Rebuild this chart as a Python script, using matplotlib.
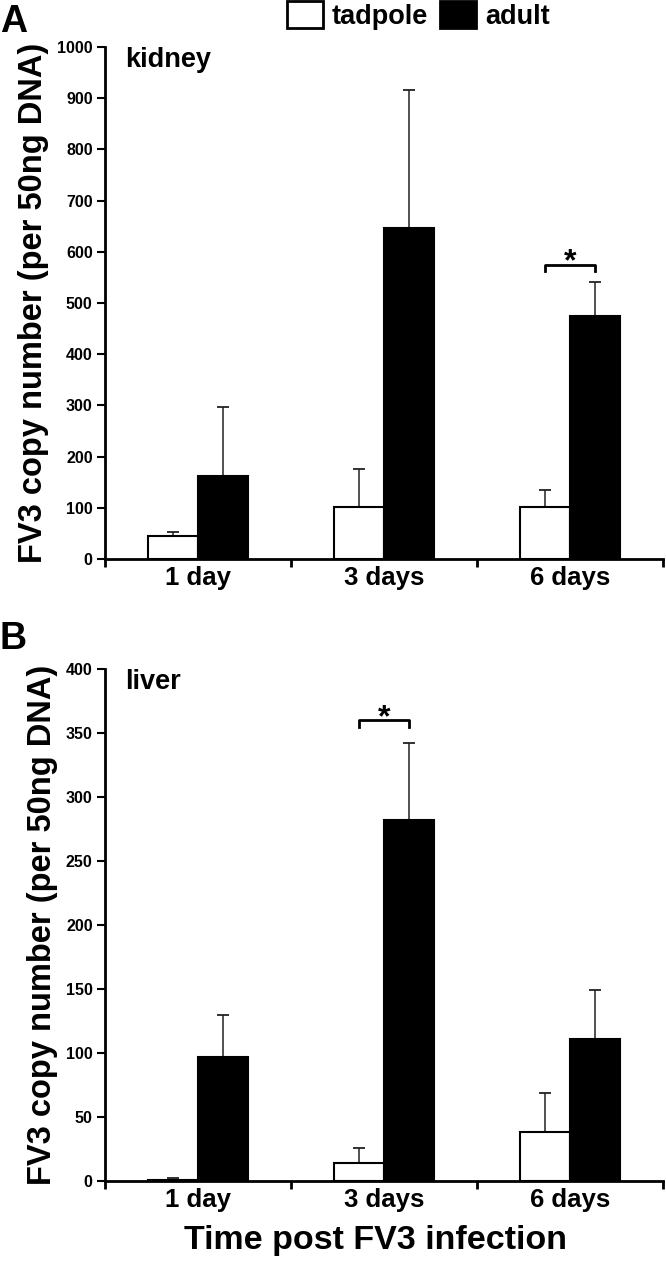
import matplotlib
matplotlib.use("Agg")
import matplotlib.pyplot as plt
import numpy as np
from matplotlib.patches import Patch

plt.rcParams['font.family'] = ['Liberation Sans', 'DejaVu Sans']
plt.rcParams['font.weight'] = 'bold'

categories = ["1 day", "3 days", "6 days"]
kidney_tadpole = [45, 101, 102]
kidney_tadpole_err = [8, 74, 33]
kidney_adult = [163, 647, 475]
kidney_adult_err = [134, 268, 65]
liver_tadpole = [1, 14, 38]
liver_tadpole_err = [1, 12, 31]
liver_adult = [97, 282, 111]
liver_adult_err = [33, 60, 38]
kidney_yticks = [0, 100, 200, 300, 400, 500, 600, 700, 800, 900, 1000]
liver_yticks = [0, 50, 100, 150, 200, 250, 300, 350, 400]
series_labels = ["tadpole", "adult"]

fig = plt.figure(figsize=(6.66, 12.65), dpi=100)
axA = fig.add_axes([0.158, 0.558, 0.837, 0.405])
axB = fig.add_axes([0.158, 0.0664, 0.837, 0.4047])

w = 0.27
x = np.arange(len(categories))

def panel(ax, tad, tad_err, adu, adu_err, yticks, tissue, sig_idx, sig_y, sig_h):
    ax.bar(x - w/2, tad, w, color='white', edgecolor='black', linewidth=1.5, zorder=3)
    ax.bar(x + w/2, adu, w, color='black', edgecolor='black', linewidth=1.5, zorder=3)
    ax.errorbar(x - w/2, tad, yerr=[np.zeros(3), tad_err], fmt='none', ecolor='#222222',
                elinewidth=1.1, capsize=4, capthick=1.3, zorder=2)
    ax.errorbar(x + w/2, adu, yerr=[np.zeros(3), adu_err], fmt='none', ecolor='#222222',
                elinewidth=1.1, capsize=4, capthick=1.3, zorder=2)
    ax.set_xlim(-0.5, 2.5)
    ax.set_ylim(0, yticks[-1])
    ax.set_yticks(yticks)
    ax.set_yticklabels([str(t) for t in yticks], fontsize=11.5, fontweight='bold')
    ax.set_xticks([-0.5, 0.5, 1.5, 2.5])
    ax.set_xticklabels([])
    ax.set_xticks(x, minor=True)
    ax.set_xticklabels(categories, minor=True, fontsize=18.5, fontweight='bold')
    ax.tick_params(axis='x', which='minor', length=0, pad=5)
    ax.tick_params(axis='x', which='major', length=6, width=2, direction='out')
    ax.tick_params(axis='y', length=6, width=1.5, direction='out', pad=3)
    for s in ['top', 'right']:
        ax.spines[s].set_visible(False)
    for s in ['left', 'bottom']:
        ax.spines[s].set_linewidth(2)
    ax.set_ylabel("FV3 copy number (per 50ng DNA)", fontsize=23.5, fontweight='bold', labelpad=6)
    ax.text(0.036, 1.0, tissue, transform=ax.transAxes, fontsize=19.5, fontweight='bold',
            va='top', ha='left')
    # significance bracket
    x0, x1 = sig_idx - w/2, sig_idx + w/2
    ax.plot([x0, x0, x1, x1], [sig_y - sig_h, sig_y, sig_y, sig_y - sig_h], color='black', lw=2)
    ax.annotate("*", xy=(sig_idx, sig_y), xytext=(0, -4), textcoords='offset points',
                ha='center', va='baseline', fontsize=23, fontweight='bold')

panel(axA, kidney_tadpole, kidney_tadpole_err, kidney_adult, kidney_adult_err,
      kidney_yticks, "kidney", 2, 574, 12)
panel(axB, liver_tadpole, liver_tadpole_err, liver_adult, liver_adult_err,
      liver_yticks, "liver", 1, 360, 5)

axB.set_xlabel("Time post FV3 infection", fontsize=24.5, fontweight='bold', labelpad=10)
axB.xaxis.set_label_coords(0.484, -0.085)

fig.text(0.0, 0.997, "A", fontsize=27, fontweight='bold', va='top', ha='left')
fig.text(0.0, 0.509, "B", fontsize=27, fontweight='bold', va='top', ha='left')

handles = [Patch(facecolor='white', edgecolor='black', linewidth=2),
           Patch(facecolor='black', edgecolor='black', linewidth=2)]
fig.legend(handles, series_labels, loc='upper left', bbox_to_anchor=(0.431, 0.999),
           ncol=2, frameon=False, prop={'size': 19.5, 'weight': 'bold'},
           borderpad=0, borderaxespad=0,
           handlelength=1.33, handleheight=1.15, handletextpad=0.33, columnspacing=0.45)

fig.savefig("out.png", dpi=100)
